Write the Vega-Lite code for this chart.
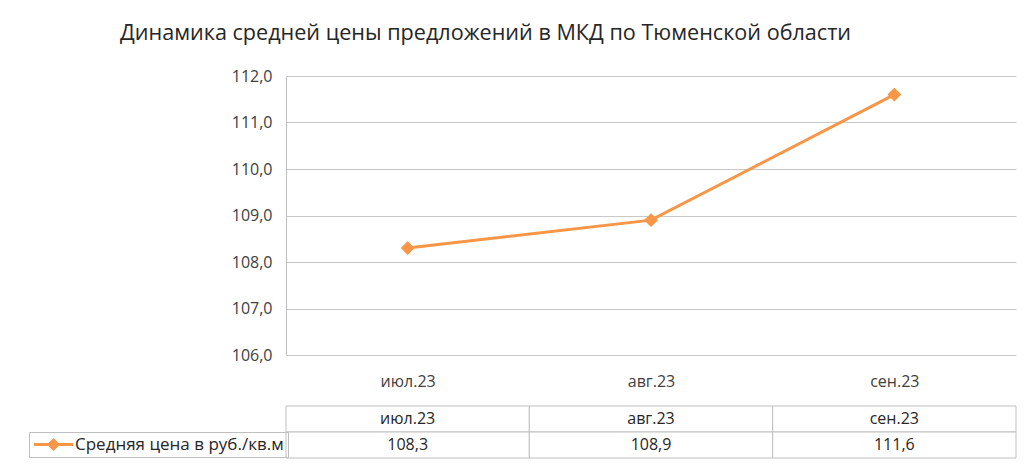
{
  "$schema": "https://vega.github.io/schema/vega-lite/v6.json",
  "padding": {"left": 26, "top": 23, "right": 5, "bottom": 5},
  "background": "white",
  "title": {
    "text": "Динамика средней цены предложений в МКД по Тюменской области",
    "anchor": "start",
    "dx": 94,
    "fontSize": 21.6,
    "fontWeight": "normal",
    "font": "Open Sans",
    "color": "#262626",
    "offset": 23
  },
  "datasets": {
    "prices": [
      {"month": "июл.23", "value": 108.3, "series": "Средняя цена в руб./кв.м"},
      {"month": "авг.23", "value": 108.9, "series": "Средняя цена в руб./кв.м"},
      {"month": "сен.23", "value": 111.6, "series": "Средняя цена в руб./кв.м"}
    ]
  },
  "config": {
    "view": {"stroke": null},
    "concat": {"spacing": 16},
    "font": "Open Sans",
    "axis": {"labelFont": "Open Sans", "labelFontSize": 16, "labelColor": "#404040"}
  },
  "vconcat": [
    {
      "width": 730,
      "height": 279,
      "data": {"name": "prices"},
      "encoding": {
        "x": {
          "field": "month",
          "type": "ordinal",
          "sort": null,
          "scale": {"type": "point", "padding": 0.5},
          "axis": {"title": null, "labelAngle": 0, "ticks": false, "domain": false, "grid": false, "labelPadding": 18}
        },
        "y": {
          "field": "value",
          "type": "quantitative",
          "scale": {"domain": [106, 112], "zero": false, "nice": false},
          "axis": {
            "title": null,
            "values": [106, 107, 108, 109, 110, 111, 112],
            "labelExpr": "replace(format(datum.value, '.1f'), '.', ',')",
            "ticks": false,
            "labelPadding": 14,
            "domain": true,
            "domainColor": "#bfbfbf",
            "grid": true,
            "gridColor": "#c8c8c8",
            "minExtent": 260,
            "maxExtent": 260
          }
        }
      },
      "layer": [
        {"mark": {"type": "line", "color": "#f79646", "strokeWidth": 3}},
        {
          "mark": {"type": "point", "shape": "diamond", "filled": true, "size": 190, "opacity": 1},
          "encoding": {
            "color": {
              "field": "series",
              "type": "nominal",
              "scale": {"range": ["#f79646"]},
              "legend": {
                "orient": "none",
                "legendX": -257,
                "legendY": 356,
                "title": null,
                "symbolType": "M-2.8,-0.2L2.8,-0.2L2.8,0.2L-2.8,0.2Z M0,-0.93L0.93,0L0,0.93L-0.93,0Z",
                "symbolSize": 196,
                "symbolStrokeWidth": 0,
                "symbolOffset": 12,
                "labelOffset": 13,
                "labelFont": "Open Sans",
                "labelFontSize": 17,
                "labelColor": "#262626",
                "labelLimit": 400,
                "strokeColor": "#bfbfbf",
                "padding": 4
              }
            }
          }
        }
      ]
    },
    {
      "width": 730,
      "height": 52,
      "data": {"name": "prices"},
      "transform": [
        {"calculate": "replace(format(datum.value, '.1f'), '.', ',')", "as": "label"}
      ],
      "encoding": {
        "x": {
          "field": "month",
          "type": "ordinal",
          "sort": null,
          "scale": {"type": "band", "paddingInner": 0, "paddingOuter": 0},
          "axis": null
        }
      },
      "layer": [
        {
          "mark": {"type": "rect", "fill": "white", "stroke": "#bfbfbf", "strokeWidth": 1},
          "encoding": {
            "y": {
              "datum": "h",
              "type": "ordinal",
              "scale": {"domain": ["h", "v"], "paddingInner": 0, "paddingOuter": 0},
              "axis": {"title": null, "labels": false, "ticks": false, "domain": false, "grid": false, "minExtent": 260, "maxExtent": 260}
            }
          }
        },
        {
          "mark": {"type": "rect", "fill": "white", "stroke": "#bfbfbf", "strokeWidth": 1},
          "encoding": {"y": {"datum": "v", "type": "ordinal"}}
        },
        {
          "mark": {"type": "text", "font": "Open Sans", "fontSize": 16, "color": "#262626"},
          "encoding": {"y": {"datum": "h", "type": "ordinal"}, "text": {"field": "month"}}
        },
        {
          "mark": {"type": "text", "font": "Open Sans", "fontSize": 16, "color": "#262626"},
          "encoding": {"y": {"datum": "v", "type": "ordinal"}, "text": {"field": "label"}}
        }
      ]
    }
  ]
}
